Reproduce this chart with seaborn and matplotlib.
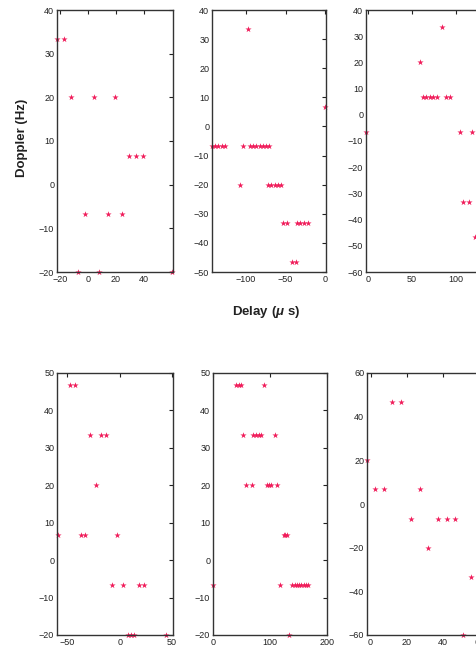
import matplotlib
matplotlib.use("Agg")
import matplotlib.pyplot as plt
import seaborn as sns
import pandas as pd

# ---- data (delay in microseconds, Doppler in Hz) ----
p1_delay   = [-22, -17, -12, 4, 19, 29, 34, 39, -2, 14, 24, -7, 8, 60]
p1_doppler = [33.33, 33.33, 20, 20, 20, 6.67, 6.67, 6.67, -6.67, -6.67, -6.67, -20, -20, -20]

p2_delay   = [-98, 0,
              -143, -139, -135, -131, -127, -104, -95, -91, -87, -83, -79, -75, -71,
              -108, -72, -68, -64, -60, -56,
              -53, -48, -36, -32, -27, -22,
              -42, -37]
p2_doppler = [33.33, 6.67,
              -6.67, -6.67, -6.67, -6.67, -6.67, -6.67, -6.67, -6.67, -6.67, -6.67, -6.67, -6.67, -6.67,
              -20, -20, -20, -20, -20, -20,
              -33.33, -33.33, -33.33, -33.33, -33.33, -33.33,
              -46.67, -46.67]

p3_delay   = [83.5, 58.5, 62, 66, 70, 74, 78, 88, 93, -2, 104, 118, 108, 114, 121]
p3_doppler = [33.33, 20, 6.67, 6.67, 6.67, 6.67, 6.67, 6.67, 6.67, -6.67, -6.67, -6.67, -33.33, -33.33, -46.67]

p4_delay   = [-48, -43, -28, -17.5, -12.7, -22.3, -59, -37.5, -32.8, -2.2, -7.3, 3.2, 18.2, 23.3, 8, 11, 14, 44]
p4_doppler = [46.67, 46.67, 33.33, 33.33, 33.33, 20, 6.67, 6.67, 6.67, 6.67, -6.67, -6.67, -6.67, -6.67, -20, -20, -20, -20]

p5_delay   = [41, 45, 49, 89,
              52.6, 71, 75, 80, 84, 108,
              58.4, 68.4, 95, 98, 102, 113,
              124, 127, 130,
              0, 118, 139, 143, 147, 151, 155, 159, 163, 166,
              133]
p5_doppler = [46.67, 46.67, 46.67, 46.67,
              33.33, 33.33, 33.33, 33.33, 33.33, 33.33,
              20, 20, 20, 20, 20, 20,
              6.67, 6.67, 6.67,
              -6.67, -6.67, -6.67, -6.67, -6.67, -6.67, -6.67, -6.67, -6.67, -6.67,
              -20]

p6_delay   = [-2, 12, 17, 2.5, 7.5, 27, 22, 37, 42, 46.5, 31.5, 55.5, 51]
p6_doppler = [20, 46.67, 46.67, 6.67, 6.67, 6.67, -6.67, -6.67, -6.67, -6.67, -20, -33.33, -60]

panels = [
    (p1_delay, p1_doppler, (-22, 60.5), (-20, 40), [-20, 0, 20, 40], list(range(-20, 41, 10))),
    (p2_delay, p2_doppler, (-143, 1), (-50, 40), [-100, -50, 0], list(range(-50, 41, 10))),
    (p3_delay, p3_doppler, (-2, 129), (-60, 40), [0, 50, 100], list(range(-60, 41, 10))),
    (p4_delay, p4_doppler, (-60, 51), (-20, 50), [-50, 0, 50], list(range(-20, 51, 10))),
    (p5_delay, p5_doppler, (0, 200), (-20, 50), [0, 100, 200], list(range(-20, 51, 10))),
    (p6_delay, p6_doppler, (-2, 62), (-60, 60), [0, 20, 40, 60], list(range(-60, 61, 20))),
]

# pixel boxes: left, top, right, bottom
boxes = [
    (57, 10, 173, 272), (212, 10, 326, 272), (366, 10, 482, 272),
    (57, 373, 173, 635), (213, 373, 327, 635), (367, 373, 483, 635),
]

sns.set_style("white")
plt.rcParams['font.family'] = ['Liberation Sans', 'DejaVu Sans']
plt.rcParams['mathtext.fontset'] = 'custom'
plt.rcParams['mathtext.it'] = 'Liberation Sans:italic:bold'
plt.rcParams['mathtext.rm'] = 'Liberation Sans:bold'

W, H = 476, 654
fig = plt.figure(figsize=(W / 100, H / 100), dpi=100)
fig.patch.set_facecolor('white')

mcolor = '#f01c5a'
for (dx, dy, xl, yl, xt, yt), (l, t, r, b) in zip(panels, boxes):
    ax = fig.add_axes([l / W, 1 - b / H, (r - l) / W, (b - t) / H])
    df = pd.DataFrame({'delay': dx, 'doppler': dy})
    sns.scatterplot(data=df, x='delay', y='doppler', ax=ax, marker='*',
                    color=mcolor, s=22, linewidth=0, clip_on=False, legend=False)
    ax.set_xlim(*xl)
    ax.set_ylim(*yl)
    ax.set_xticks(xt)
    ax.set_yticks(yt)
    ax.set_xlabel('')
    ax.set_ylabel('')
    ax.tick_params(direction='in', top=True, right=True, length=3, width=0.8,
                   labelsize=6.5, pad=2, colors='#222222')
    for s in ax.spines.values():
        s.set_color('#333333')
        s.set_linewidth(1.0)
    ax.set_facecolor('white')

fig.text(22 / W, 1 - 138 / H, 'Doppler (Hz)', rotation=90, ha='center', va='center',
         fontsize=9.5, fontweight='bold', color='#222222')
fig.text(266 / W, 1 - 312 / H, r'Delay ($\mu$ s)', ha='center', va='center',
         fontsize=9.5, fontweight='bold', color='#222222')

fig.savefig('out.png', dpi=100, facecolor='white')
